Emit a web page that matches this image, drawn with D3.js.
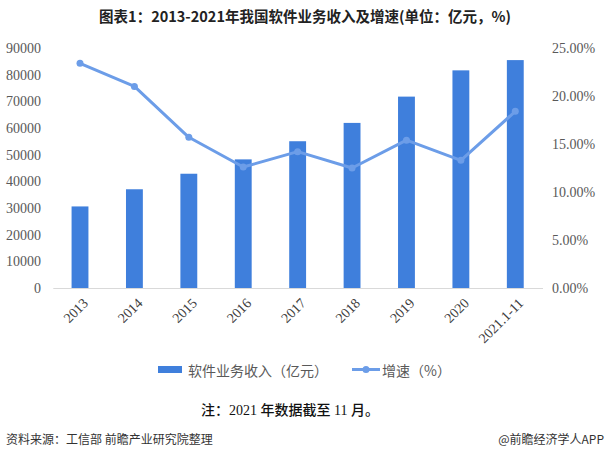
<!DOCTYPE html>
<html><head><meta charset="utf-8">
<script src="https://cdn.jsdelivr.net/npm/d3@7"></script>
<style>body{margin:0;background:#fff}svg{display:block}</style>
</head><body>
<script>
const categories = ["2013","2014","2015","2016","2017","2018","2019","2020","2021.1-11"];
const revenue = [30587,37026,42848,48232,55037,61909,71768,81616,85462];
const growth = [23.4,21.0,15.7,12.6,14.2,12.5,15.4,13.3,18.4];
const leftTicks = [0,10000,20000,30000,40000,50000,60000,70000,80000,90000];
const rightTicks = [0,5,10,15,20,25];

const W=607,H=460;
const svg=d3.select("body").append("svg").attr("width",W).attr("height",H);
const serif="'Liberation Serif','Times New Roman',serif";
const cjk="'Noto Sans CJK SC','Noto Sans',sans-serif";
const barColor="#3f7fdc", lineColor="#6c9de8", txt="#595959";

const x=d3.scaleBand().domain(categories).range([52.8,542.5]).paddingInner(0.69).paddingOuter(0.345);
const yL=d3.scaleLinear().domain([0,90000]).range([288,48]);
const yR=d3.scaleLinear().domain([0,25]).range([288,48]);

// title
svg.append("text").attr("x",305).attr("y",22).attr("text-anchor","middle")
  .attr("font-family",cjk).attr("font-weight","bold").attr("font-size",14.5).attr("fill","#222")
  .text("图表1：2013-2021年我国软件业务收入及增速(单位：亿元，%)");

// left axis
const gL=svg.append("g").attr("transform","translate(52,0)")
  .call(d3.axisLeft(yL).tickValues(leftTicks).tickSize(0).tickPadding(11).tickFormat(d3.format("d")));
gL.select(".domain").remove();
gL.selectAll("text").attr("font-family",serif).attr("font-size",14).attr("fill",txt);

// right axis
const gR=svg.append("g").attr("transform","translate(542,0)")
  .call(d3.axisRight(yR).tickValues(rightTicks).tickSize(0).tickPadding(10).tickFormat(d=>d.toFixed(2)+"%"));
gR.select(".domain").remove();
gR.selectAll("text").attr("font-family",serif).attr("font-size",14).attr("fill",txt);

// bars
svg.append("g").selectAll("rect").data(revenue).join("rect")
  .attr("x",(d,i)=>x(categories[i])).attr("width",x.bandwidth())
  .attr("y",d=>yL(d)).attr("height",d=>yL(0)-yL(d)).attr("fill",barColor);

// x axis
const gX=svg.append("g").attr("transform","translate(0,288)")
  .call(d3.axisBottom(x).tickSize(0).tickPadding(0));
gX.select(".domain").attr("stroke","#d9d9d9").attr("stroke-width",1);
gX.selectAll("text").attr("font-family",serif).attr("font-size",14).attr("fill","#404040")
  .attr("text-anchor","end").attr("dy",0).attr("y",0)
  .attr("transform","translate(9,16) rotate(-45)");

// line
const cx=(i)=>x(categories[i])+x.bandwidth()/2;
svg.append("path").datum(growth)
  .attr("d",d3.line().x((d,i)=>cx(i)).y(d=>yR(d)))
  .attr("fill","none").attr("stroke",lineColor).attr("stroke-width",3).attr("stroke-linejoin","round");
svg.append("g").selectAll("circle").data(growth).join("circle")
  .attr("cx",(d,i)=>cx(i)).attr("cy",d=>yR(d)).attr("r",3.5).attr("fill",lineColor);

// legend
const lg=svg.append("g");
lg.append("rect").attr("x",158).attr("y",366).attr("width",24).attr("height",7).attr("fill",barColor);
lg.append("text").attr("x",188).attr("y",376).attr("font-family",cjk).attr("font-size",14).attr("fill",txt).text("软件业务收入（亿元）");
lg.append("line").attr("x1",352).attr("x2",380).attr("y1",369.5).attr("y2",369.5).attr("stroke",lineColor).attr("stroke-width",3);
lg.append("circle").attr("cx",366).attr("cy",369.5).attr("r",3.5).attr("fill",lineColor);
lg.append("text").attr("x",382).attr("y",376).attr("font-family",cjk).attr("font-size",14).attr("fill",txt).text("增速（%）");

// note
svg.append("text").attr("x",201).attr("y",415).attr("font-family",serif+","+cjk).attr("font-size",14).attr("font-weight",500).attr("fill","#111")
  .text("注：2021 年数据截至 11 月。");

// footer
svg.append("text").attr("x",6).attr("y",444).attr("font-family",cjk).attr("font-size",12).attr("fill","#333")
  .text("资料来源：工信部 前瞻产业研究院整理");
svg.append("text").attr("x",604).attr("y",444).attr("text-anchor","end").attr("font-family",cjk).attr("font-size",12).attr("fill","#333")
  .text("@前瞻经济学人APP");
</script>
</body></html>
